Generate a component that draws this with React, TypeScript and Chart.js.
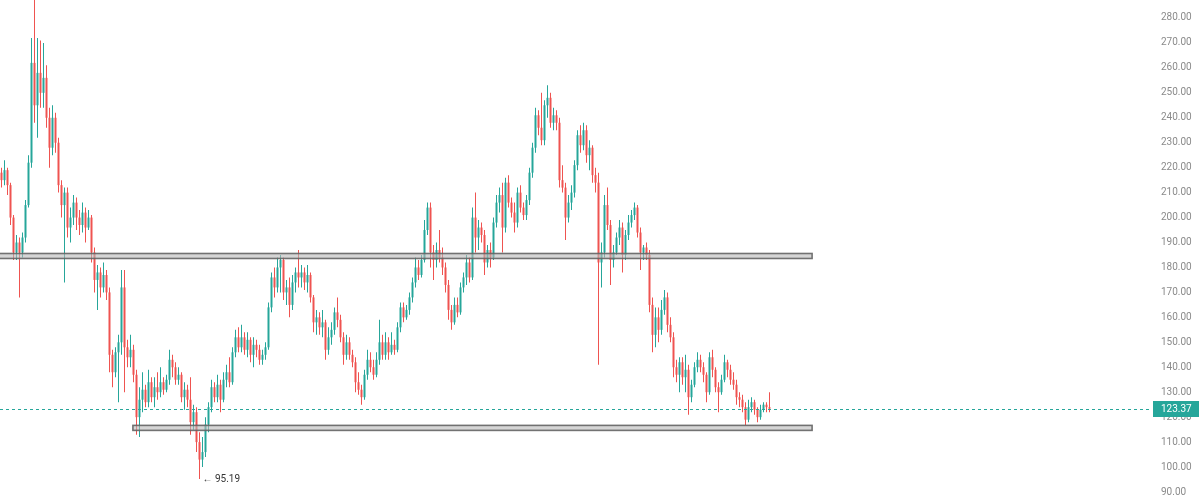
import React, { useEffect, useRef } from "react";
import { Chart, registerables } from "chart.js";

Chart.register(...registerables);

// OHLC values (one entry per candle)
const opens = [
  218,215,219,213,200,186,190,186,192,205,
  222,262,245,258,250,256,240,228,240,230,
  213,205,210,196,200,206,200,197,202,196,
  200,186,175,178,172,177,170,145,138,146,
  150,172,148,144,147,137,120,127,131,126,
  134,128,132,130,134,131,135,143,140,135,
  137,128,131,127,118,122,110,103,106,117,
  124,132,128,133,127,135,138,134,146,152,
  148,152,147,151,145,149,147,143,145,148,
  164,176,172,180,183,170,172,165,174,178,
  176,178,174,177,168,158,160,156,158,147,
  152,155,162,159,152,145,150,145,142,134,
  131,128,137,143,140,137,143,150,145,150,
  146,149,147,156,164,160,163,168,174,180,
  177,183,195,204,186,183,187,184,180,173,
  163,158,165,162,172,176,182,176,200,192,
  196,193,182,187,184,198,206,209,196,214,
  206,202,198,210,204,201,207,218,228,241,
  236,231,245,248,238,241,238,215,212,200,
  206,210,221,233,229,235,225,228,217,214,
  182,186,205,197,183,186,192,196,185,193,
  198,201,204,194,186,188,185,165,153,160,
  155,163,168,157,152,140,137,142,136,139,
  128,133,140,143,140,137,130,144,139,132,
  130,135,142,139,135,133,128,127,124,119,
  124,126,123,120,123,125,124,
];

const highs = [
  220,223,220,214,201,193,192,194,207,225,
  272,292,272,271,270,261,244,245,242,232,
  215,212,212,204,209,208,203,206,204,203,
  201,188,181,180,182,179,172,147,148,153,
  179,179,151,153,149,139,132,138,133,139,
  136,136,138,140,136,137,147,145,142,140,
  138,134,133,136,125,124,114,112,120,126,
  135,134,137,135,138,141,144,148,155,156,
  157,154,154,152,152,151,149,147,150,166,
  178,180,184,185,184,175,176,177,180,187,
  181,180,181,178,169,163,162,163,159,156,
  158,164,168,161,154,153,152,147,144,138,
  133,139,147,146,143,146,159,153,154,152,
  154,151,158,166,166,165,170,176,184,183,
  185,199,206,206,189,190,195,188,182,175,
  165,168,168,174,178,185,184,204,210,199,
  198,195,189,190,200,209,212,214,216,217,
  208,206,212,213,206,209,220,230,244,243,
  250,247,253,250,244,243,240,221,214,209,
  213,223,235,237,238,237,231,229,220,218,
  190,209,212,199,189,194,199,198,195,201,
  203,206,205,196,189,190,187,168,164,164,
  167,171,170,160,154,143,144,144,145,141,
  135,142,146,145,142,138,146,147,140,134,
  137,145,143,141,138,135,130,129,126,127,
  128,127,124,125,126,126,130,
];

const lows = [
  212,213,209,197,183,183,168,184,190,204,
  220,238,232,244,244,236,220,225,226,210,
  200,174,192,190,197,195,193,194,190,195,
  182,170,163,168,170,167,138,132,136,126,
  145,130,140,140,134,113,112,122,124,124,
  126,124,127,128,129,130,133,136,133,133,
  126,123,124,113,115,106,95.19,100,104,114,
  122,126,126,122,126,132,132,133,144,146,
  146,145,144,142,140,144,141,141,143,147,
  162,168,170,170,167,165,160,163,170,172,
  172,171,170,166,154,153,153,152,143,145,
  149,153,156,150,141,143,143,140,130,129,
  125,127,135,138,135,136,141,143,143,143,
  145,145,146,154,158,159,161,166,172,175,
  176,182,193,180,175,180,182,177,170,159,
  155,157,160,161,170,173,174,175,186,187,
  190,177,180,180,183,196,202,186,194,204,
  200,194,196,202,199,199,205,216,226,233,
  229,229,240,236,235,235,212,210,191,198,
  203,208,219,226,227,222,219,214,210,141,
  172,184,195,173,180,185,189,178,183,191,
  196,199,192,179,183,183,162,146,148,150,
  153,161,154,150,136,134,130,133,130,121,
  126,132,138,138,134,126,129,136,130,122,
  129,134,136,133,131,125,124,122,116.8,118,
  122,121,118,119,122,122,122,
];

const closes = [
  215,219,213,200,186,190,186,192,205,222,
  262,245,258,250,256,240,228,240,230,213,
  205,210,196,200,206,200,197,202,196,200,
  186,175,178,172,177,170,145,138,146,150,
  172,148,144,147,137,120,127,131,126,134,
  128,132,130,134,131,135,143,140,135,137,
  128,131,127,118,122,110,103,106,117,124,
  132,128,133,127,135,138,134,146,152,148,
  152,147,151,145,149,147,143,145,148,164,
  176,172,180,183,170,172,165,174,178,176,
  178,174,177,168,158,160,156,158,147,152,
  155,162,159,152,145,150,145,142,134,131,
  128,137,143,140,137,143,150,145,150,146,
  149,147,156,164,160,163,168,174,180,177,
  183,195,204,186,183,187,184,180,173,163,
  158,165,162,172,176,182,176,200,192,196,
  193,182,187,184,198,206,209,196,214,206,
  202,198,210,204,201,207,218,228,241,236,
  231,245,248,238,241,238,215,212,200,206,
  210,221,233,229,235,225,228,217,214,182,
  186,205,197,183,186,192,196,185,193,198,
  201,204,194,186,188,185,165,153,160,155,
  163,168,157,152,140,137,142,136,139,128,
  133,140,143,140,137,130,144,139,132,130,
  135,142,139,135,133,128,127,124,119,124,
  126,123,120,123,125,124,123.37,
];

// Price axis tick labels
const yTicks = [90,100,110,120,130,140,150,160,170,180,190,200,210,220,230,240,250,260,270,280];

// Horizontal support / resistance zones (candle index range, price range)
const zoneFrom = [-1, 43.8];
const zoneTo = [270.2, 270.2];
const zoneLow = [183.6, 114.7];
const zoneHigh = [185.6, 116.7];

const UP = "#26a69a";
const DOWN = "#ef5350";
const FONT = "Roboto, 'Noto Sans', sans-serif";

export default function App() {
  const ref = useRef<HTMLCanvasElement | null>(null);

  useEffect(() => {
    document.body.style.margin = "0";
    const canvas = ref.current;
    if (!canvas) return;

    const idx = closes.map((_, i) => i);
    const colors = idx.map((i) => (closes[i] >= opens[i] ? UP : DOWN));
    const bodies = idx.map((i) => ({ x: i, y: [opens[i], closes[i]] }));
    const wicks = idx.map((i) => ({ x: i, y: [lows[i], highs[i]] }));

    let minIdx = 0;
    lows.forEach((v, i) => {
      if (v < lows[minIdx]) minIdx = i;
    });
    const lastClose = closes[closes.length - 1];

    const overlay = {
      id: "overlay",
      afterDatasetsDraw(chart: any) {
        const { ctx, chartArea, scales } = chart;
        const xs = scales.x;
        const ys = scales.y;
        ctx.save();
        ctx.beginPath();
        ctx.rect(chartArea.left, chartArea.top, chartArea.right - chartArea.left, chartArea.bottom - chartArea.top);
        ctx.clip();
        for (let k = 0; k < zoneFrom.length; k++) {
          const x1 = xs.getPixelForValue(zoneFrom[k]);
          const x2 = xs.getPixelForValue(zoneTo[k]);
          const y1 = ys.getPixelForValue(zoneHigh[k]);
          const y2 = ys.getPixelForValue(zoneLow[k]);
          ctx.fillStyle = "rgba(185,185,185,0.6)";
          ctx.fillRect(x1, y1, x2 - x1, y2 - y1);
          ctx.strokeStyle = "rgba(100,100,100,0.9)";
          ctx.lineWidth = 1.6;
          ctx.strokeRect(x1, y1, x2 - x1, y2 - y1);
        }
        // current price dashed line
        const py = Math.round(ys.getPixelForValue(lastClose)) + 0.5;
        ctx.strokeStyle = UP;
        ctx.lineWidth = 1;
        ctx.setLineDash([3, 3]);
        ctx.beginPath();
        ctx.moveTo(chartArea.left, py);
        ctx.lineTo(chartArea.right, py);
        ctx.stroke();
        ctx.restore();
      },
      afterDraw(chart: any) {
        const { ctx, chartArea, scales, width } = chart;
        const xs = scales.x;
        const ys = scales.y;
        ctx.save();
        // price label on axis
        const py = ys.getPixelForValue(lastClose);
        ctx.fillStyle = UP;
        ctx.fillRect(chartArea.right + 1, Math.round(py) - 8, width - chartArea.right - 1, 16);
        ctx.fillStyle = "#ffffff";
        ctx.font = `10px ${FONT}`;
        ctx.textBaseline = "middle";
        ctx.textAlign = "left";
        ctx.fillText(lastClose.toFixed(2), chartArea.right + 9, Math.round(py) + 0.5);
        // low marker
        const lx = xs.getPixelForValue(minIdx) + 3;
        const ly = ys.getPixelForValue(lows[minIdx]);
        ctx.fillStyle = "#333333";
        ctx.font = `10px ${FONT}`;
        ctx.fillText("\u2190 " + lows[minIdx].toFixed(2), lx, ly + 0.5);
        ctx.restore();
      },
    };

    const chart = new Chart(canvas, {
      type: "bar",
      data: {
        datasets: [
          {
            data: bodies as any,
            backgroundColor: colors,
            barThickness: 2,
            grouped: false,
            order: 0,
            minBarLength: 1,
            inflateAmount: 0,
          } as any,
          {
            data: wicks as any,
            backgroundColor: colors,
            barThickness: 1,
            grouped: false,
            order: 1,
            inflateAmount: 0,
          } as any,
        ],
      },
      options: {
        animation: false,
        responsive: false,
        devicePixelRatio: 1,
        layout: { padding: 0 },
        plugins: {
          legend: { display: false },
          tooltip: { enabled: false },
        },
        scales: {
          x: {
            type: "linear",
            min: -0.5,
            max: 383.5,
            display: false,
            offset: false,
          },
          y: {
            position: "right",
            min: 88,
            max: 287.2,
            grid: { display: false, drawTicks: false },
            border: { display: false },
            ticks: {
              color: "#8a8a8a",
              font: { family: FONT, size: 10 },
              padding: 9,
              callback: (v: any) => Number(v).toFixed(2),
            },
            afterBuildTicks: (s: any) => {
              s.ticks = yTicks.map((v) => ({ value: v }));
            },
            afterFit: (s: any) => {
              s.width = 47;
              s.paddingTop = 0;
              s.paddingBottom = 0;
            },
          },
        },
      } as any,
      plugins: [overlay],
    });

    return () => chart.destroy();
  }, []);

  return (
    <div style={{ width: 1199, height: 497, background: "#ffffff" }}>
      <canvas ref={ref} width={1199} height={497} style={{ display: "block" }} />
    </div>
  );
}
